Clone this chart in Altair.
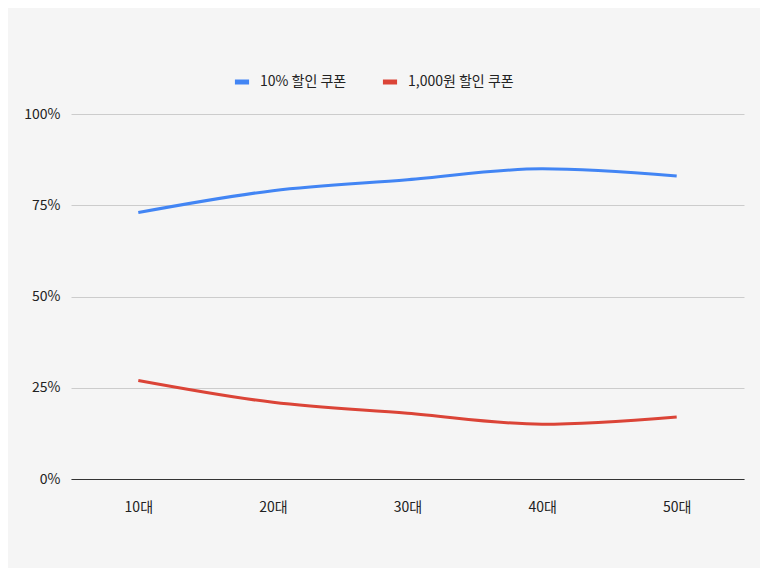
import altair as alt
import pandas as pd

ages = ["10대", "20대", "30대", "40대", "50대"]
pct_coupon = [73, 79, 82, 85, 83]
won_coupon = [27, 21, 18, 15, 17]
series_names = ["10% 할인 쿠폰", "1,000원 할인 쿠폰"]
colors = ["#4285F4", "#DB4437"]

rows = []
for a, v in zip(ages, pct_coupon):
    rows.append({"age": a, "value": v / 100, "series": series_names[0]})
for a, v in zip(ages, won_coupon):
    rows.append({"age": a, "value": v / 100, "series": series_names[1]})
df = pd.DataFrame(rows)

FONT = "Noto Sans CJK KR"

chart = alt.Chart(df).mark_line(interpolate="monotone", strokeWidth=3).encode(
    x=alt.X("age:N", sort=ages, title=None,
            scale=alt.Scale(type="point", padding=0.5),
            axis=alt.Axis(labelAngle=0, ticks=False, domain=True, domainColor="#333333",
                          domainWidth=1.2, labelPadding=21, labelFontSize=14,
                          labelColor="#222222", labelFont=FONT, grid=False)),
    y=alt.Y("value:Q", title=None,
            scale=alt.Scale(domain=[0, 1], nice=False),
            axis=alt.Axis(values=[0, 0.25, 0.5, 0.75, 1], format=".0%", domain=False, ticks=False,
                          gridColor="#cccccc", labelPadding=11, labelFontSize=14,
                          labelColor="#222222", labelFont=FONT)),
    color=alt.Color("series:N", sort=series_names,
                    scale=alt.Scale(domain=series_names, range=colors),
                    legend=alt.Legend(title=None, orient="none", direction="horizontal",
                                      legendX=161, legendY=-42, symbolType="stroke",
                                      symbolStrokeWidth=5, symbolSize=200, labelFontSize=14,
                                      labelFont=FONT, labelColor="#222222", labelOffset=8,
                                      columnPadding=25)),
).properties(
    width=673, height=365,
    autosize=alt.AutoSizeParams(type="none"),
    padding={"left": 63, "top": 106, "right": 16, "bottom": 89},
    background="#f5f5f5",
).configure_view(stroke=None)

chart.save("out.html", embed_options={"renderer": "svg", "actions": False})
